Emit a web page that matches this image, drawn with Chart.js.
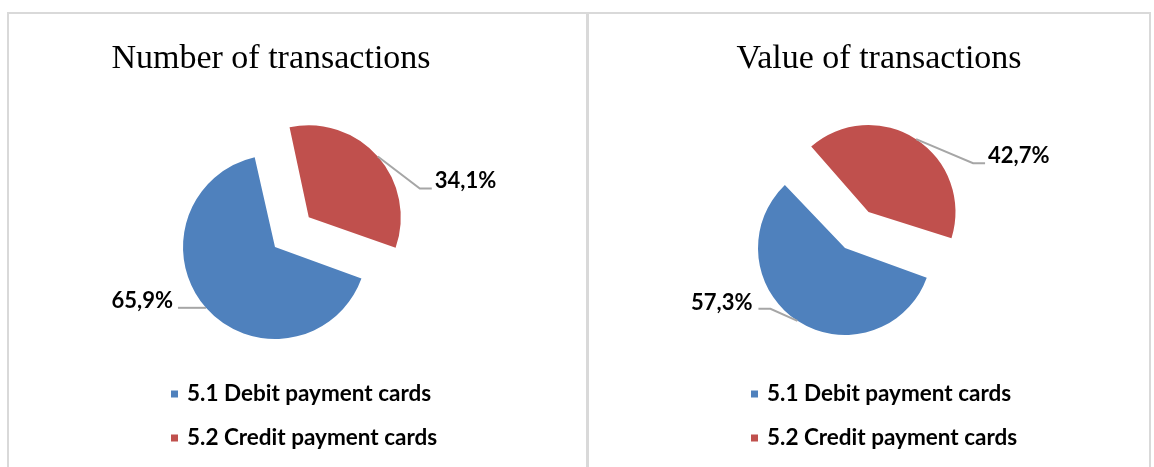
<!DOCTYPE html>
<html>
<head>
<meta charset="utf-8">
<script src="https://cdn.jsdelivr.net/npm/chart.js@4.4.1/dist/chart.umd.min.js"></script>
<style>
  html, body { margin: 0; padding: 0; background: #fff; }
  body { width: 1154px; height: 467px; position: relative; overflow: hidden; }
  .frame { position: absolute; left: 7px; top: 12px; width: 1144px; height: 480px;
           border: 2px solid #d9d9d9; box-sizing: border-box; }
  .divider { position: absolute; left: 586px; top: 12px; width: 3px; height: 470px; background: #d9d9d9; }
  canvas { position: absolute; top: 14px; }
  #numChart { left: 9px; }
  #valChart { left: 590px; }
</style>
</head>
<body>
<div class="frame"></div>
<div class="divider"></div>
<canvas id="numChart" width="577" height="453"></canvas>
<canvas id="valChart" width="560" height="453"></canvas>
<script>
// data
var categories = ['5.1 Debit payment cards', '5.2 Credit payment cards'];
var numberShares = [65.9, 34.1];
var valueShares = [57.3, 42.7];
var titles = ['Number of transactions', 'Value of transactions'];

var colors = ['#4f81bd', '#c0504d'];
var labelFont = 'bold 22px Lato';

function pct(v) {
  return v.toFixed(1).replace('.', ',') + '%';
}

// v4 grows the radius of an offset arc, undo that so exploded slice keeps size
var keepRadius = {
  id: 'keepRadius',
  afterDatasetsUpdate: function(chart) {
    chart.getDatasetMeta(0).data.forEach(function(arc) {
      var shift = (arc.options.offset || 0) / 4;
      var fix = 1 - Math.sin(Math.min(Math.PI, arc.circumference));
      arc.outerRadius -= shift * fix;
    });
  }
};

var panelTitle = {
  id: 'panelTitle',
  afterDraw: function(chart, args, opts) {
    var ctx = chart.ctx;
    ctx.save();
    ctx.font = opts.font;
    ctx.fillStyle = '#000';
    ctx.textAlign = 'center';
    ctx.textBaseline = 'alphabetic';
    ctx.fillText(opts.text, opts.x, opts.y);
    ctx.restore();
  }
};

// legend stacked in rows under the pie, like the excel one
var rowLegend = {
  id: 'rowLegend',
  afterDraw: function(chart, args, opts) {
    var ctx = chart.ctx;
    var ds = chart.data.datasets[0];
    ctx.save();
    chart.data.labels.forEach(function(text, i) {
      var y = opts.y + i * opts.gap;
      ctx.fillStyle = ds.backgroundColor[i];
      ctx.fillRect(opts.x, y - 3.5, 7, 7);
      ctx.font = opts.font;
      ctx.fillStyle = '#000';
      ctx.textAlign = 'left';
      ctx.textBaseline = 'alphabetic';
      ctx.fillText(text, opts.x + 16, y + 6.5);
    });
    ctx.restore();
  }
};

var leaders = {
  id: 'leaders',
  afterDatasetsDraw: function(chart, args, opts) {
    var ctx = chart.ctx;
    var values = chart.data.datasets[0].data;
    chart.getDatasetMeta(0).data.forEach(function(arc, i) {
      var l = opts.items[i];
      var mid = (arc.startAngle + arc.endAngle) / 2;
      var shift = (arc.options.offset || 0) / 4;
      var fix = 1 - Math.sin(Math.min(Math.PI, arc.circumference));
      var r = arc.outerRadius + shift * fix;
      var sx = arc.x + Math.cos(mid) * (shift + r);
      var sy = arc.y + Math.sin(mid) * (shift + r);
      ctx.save();
      ctx.strokeStyle = '#a6a6a6';
      ctx.lineWidth = 2;
      ctx.beginPath();
      ctx.moveTo(sx, sy);
      ctx.lineTo(sx + l.elbow[0], sy + l.elbow[1]);
      ctx.lineTo(sx + l.end[0], sy + l.end[1]);
      ctx.stroke();
      ctx.font = labelFont;
      ctx.fillStyle = '#000';
      ctx.textAlign = l.align;
      ctx.textBaseline = 'alphabetic';
      ctx.fillText(pct(values[i]), sx + l.text[0], sy + l.text[1]);
      ctx.restore();
    });
  }
};

function makePie(id, values, title, cfg) {
  return new Chart(document.getElementById(id), {
    type: 'pie',
    data: {
      labels: categories,
      datasets: [{
        data: values,
        backgroundColor: colors,
        borderWidth: 0,
        hoverOffset: 0,
        offset: function(c) { return cfg.explode[c.dataIndex] * 4; }
      }]
    },
    plugins: [keepRadius, panelTitle, rowLegend, leaders],
    options: {
      responsive: false,
      animation: false,
      events: [],
      rotation: 110,
      radius: cfg.radius,
      layout: { padding: cfg.padding },
      plugins: {
        tooltip: { enabled: false },
        title: { display: false },
        legend: { display: false },
        panelTitle: { text: title, x: cfg.titleX, y: 54, font: '34px "Liberation Serif"' },
        rowLegend: { x: cfg.legendX, y: 380, gap: 44, font: 'bold 22.5px Lato' },
        leaders: { items: cfg.leaders }
      }
    }
  });
}

makePie('numChart', numberShares, titles[0], {
  radius: 92,
  explode: [0, 45],
  titleX: 262,
  legendX: 162,
  padding: { left: 100, right: 145, top: 113, bottom: 100 },
  leaders: [
    { elbow: [0, 0], end: [-28, 0], text: [-33, 0], align: 'right' },
    { elbow: [42, 32], end: [54, 32], text: [57, 32], align: 'left' }
  ]
});

makePie('valChart', valueShares, titles[1], {
  radius: 87,
  explode: [0, 43],
  titleX: 289,
  legendX: 161,
  padding: { left: 100, right: 150, top: 115, bottom: 100 },
  leaders: [
    { elbow: [-27, -12], end: [-39, -12], text: [-45, -11], align: 'right' },
    { elbow: [57, 24], end: [69, 24], text: [72, 24], align: 'left' }
  ]
});
</script>
</body>
</html>
